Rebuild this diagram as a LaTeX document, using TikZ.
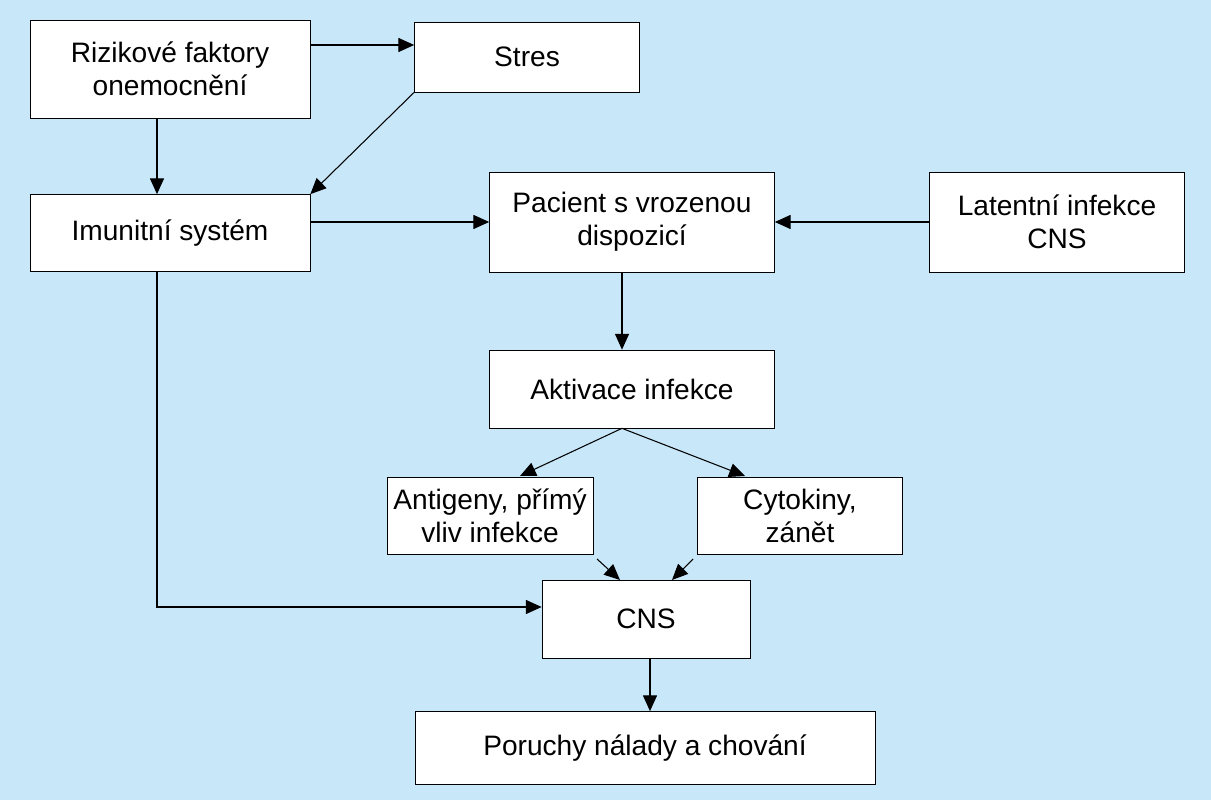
\documentclass[tikz,border=0pt]{standalone}
\usepackage{fontspec}
\setmainfont{Liberation Sans}
\usetikzlibrary{arrows.meta}
\definecolor{bgblue}{HTML}{C8E8FA}
\tikzset{
    box/.style={draw, fill=white, align=center, inner sep=2pt,
        font=\fontsize{16}{19}\selectfont},
    link/.style={-{Triangle[length=9pt,width=8pt]}, line width=0.6pt}
}
\begin{document}
\begin{tikzpicture}[x=0.02cm, y=-0.02cm]
\fill[bgblue] (0,0) rectangle (1211,800);
\useasboundingbox (0,0) rectangle (1211,800);

\node[box, minimum width=5.6cm, minimum height=1.96cm] (rizika) at (170,69) {Rizikové faktory\\onemocnění};
\node[box, minimum width=4.5cm, minimum height=1.4cm] (stres) at (527,57) {Stres};
\node[box, minimum width=5.6cm, minimum height=1.54cm] (imunita) at (170,233) {Imunitní systém};
\node[box, minimum width=5.7cm, minimum height=2cm] (pacient) at (632,222) {Pacient s vrozenou\\dispozicí};
\node[box, minimum width=5.1cm, minimum height=2cm] (latentni) at (1057,222) {Latentní infekce\\CNS};
\node[box, minimum width=5.7cm, minimum height=1.56cm] (aktivace) at (632,389) {Aktivace infekce};
\node[box, minimum width=4.12cm, minimum height=1.54cm] (antigeny) at (490,516) {Antigeny, přímý\\vliv infekce};
\node[box, minimum width=4.1cm, minimum height=1.54cm] (cytokiny) at (800,516) {Cytokiny,\\zánět};
\node[box, minimum width=4.16cm, minimum height=1.56cm] (cns) at (646,619) {CNS};
\node[box, minimum width=9.2cm, minimum height=1.46cm] (poruchy) at (645,748) {Poruchy nálady a chování};

\coordinate (ohyb) at (157,607);

\draw[link] (rizika.east |- 0,45) -- (stres.west |- 0,45);
\draw[link] (rizika.south -| 157,0) -- (imunita.north -| 157,0);
\draw[link] (stres.south west) -- (imunita.north east);
\draw[link] (imunita.east |- pacient) -- (pacient.west);
\draw[link] (latentni.west) -- (pacient.east);
\draw[link] (pacient.south -| 622,0) -- (aktivace.north -| 622,0);
\draw[link] (aktivace.south -| 622,0) -- (520,476);
\draw[link] (aktivace.south -| 622,0) -- (745,476);
\draw[link] (597,559) -- (620,580);
\draw[link] (693,559) -- (672,580);
\draw[link] (imunita.south -| ohyb) -- (ohyb) -- (cns.west |- ohyb);
\draw[link] (cns.south -| 650,0) -- (poruchy.north -| 650,0);
\end{tikzpicture}
\end{document}
